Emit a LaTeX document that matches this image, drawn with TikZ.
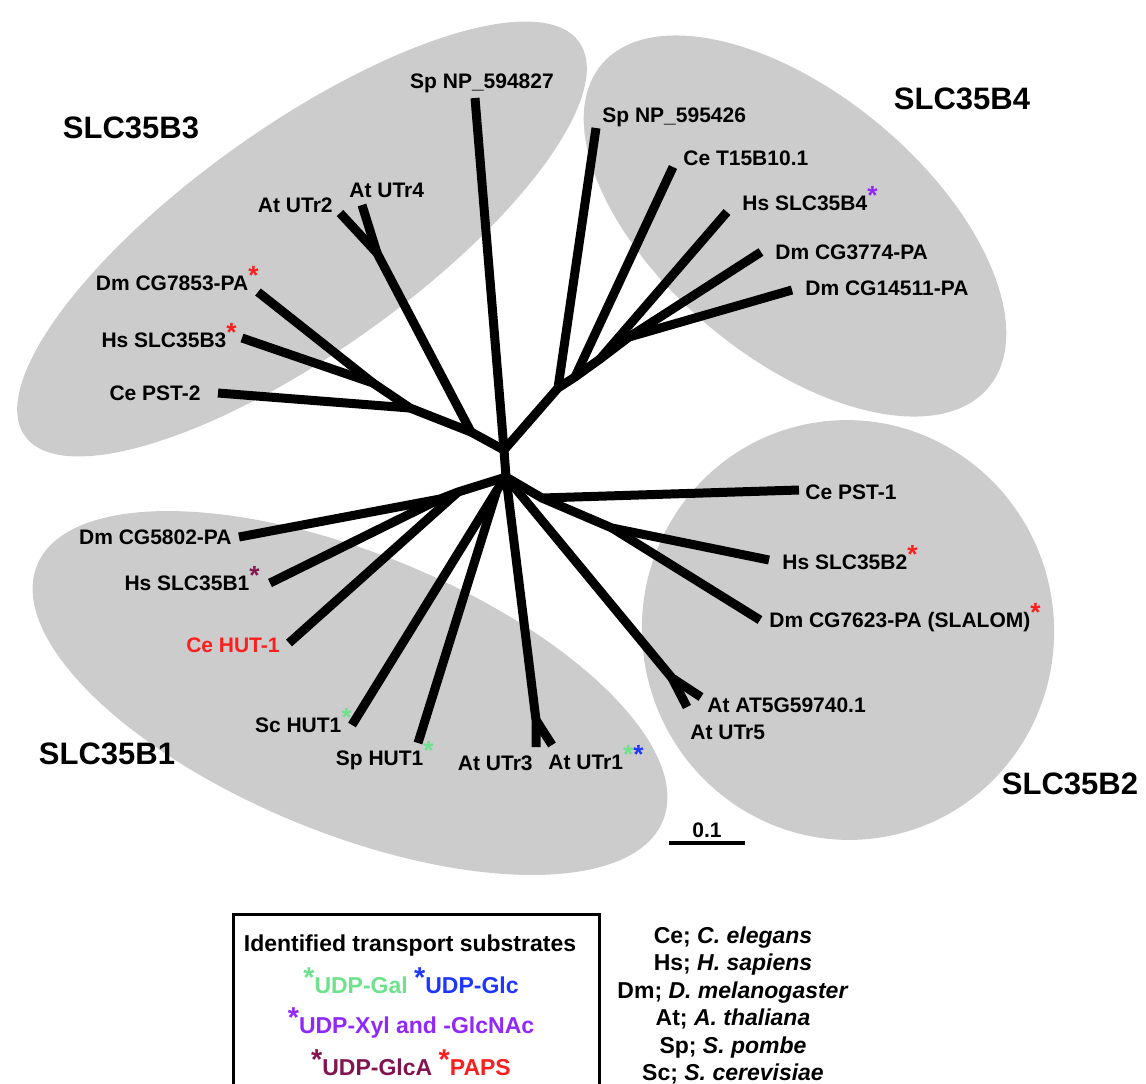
\documentclass[tikz,border=0pt]{standalone}
\usepackage{fontspec}
\setmainfont{Liberation Sans}
\usepackage{graphicx}
\usetikzlibrary{positioning}

\definecolor{cladegray}{RGB}{204,204,204}
\definecolor{galgreen}{RGB}{110,225,140}
\definecolor{glcblue}{RGB}{30,55,255}
\definecolor{xylpurple}{RGB}{145,40,250}
\definecolor{glcamaroon}{RGB}{130,20,80}
\definecolor{papsred}{RGB}{255,30,30}

% coloured substrate mark
\newcommand{\mk}[1]{\textcolor{#1}{\raisebox{0.25em}{\scalebox{1.25}{*}}}}

\begin{document}
\begin{tikzpicture}[x=0.5pt, y=-0.5pt,
    clade/.style={fill=cladegray, draw=none},
    branch/.style={line width=4.5pt, line join=round},
    leaf/.style={font=\bfseries\fontsize{10.5}{12}\selectfont, inner sep=0pt},
    cladename/.style={font=\bfseries\fontsize{15.5}{18}\selectfont, inner sep=0pt},
    key/.style={font=\bfseries\fontsize{11.5}{13}\selectfont, inner sep=0pt}]

\useasboundingbox (0,0) rectangle (1146,1083);

% gray clades
\fill[clade, rotate around={35.4:(302,239)}] (302,239) ellipse (340 and 113);
\fill[clade, rotate around={-39.8:(795,226)}] (795,226) ellipse (252 and 132);
\fill[clade, rotate around={-22.2:(350,693)}] (350,693) ellipse (338 and 140);
\fill[clade, rotate around={10:(848,630)}] (848,630) ellipse (206 and 210);

% clade names
\node[cladename, anchor=base] (slc35b3) at (131,138) {SLC35B3};
\node[cladename, anchor=base] (slc35b4) at (962,109) {SLC35B4};
\node[cladename, anchor=base] (slc35b1) at (107,764) {SLC35B1};
\node[cladename, anchor=base] (slc35b2) at (1070,794) {SLC35B2};

% inner points of the tree
\coordinate (top) at (504,450);
\coordinate (bot) at (506,477);
\coordinate (b3a) at (471,432);
\coordinate (b3b) at (410,408);
\coordinate (b3c) at (373,383);
\coordinate (b3utr) at (377,253);
\coordinate (b4a) at (558,388);
\coordinate (b4b) at (575,377);
\coordinate (b4c) at (600,359);
\coordinate (b4d) at (629,337);
\coordinate (b1a) at (458,492);
\coordinate (b1b) at (440,499);
\coordinate (b1hut) at (497,490);
\coordinate (b1utr) at (536,720);
\coordinate (b2a) at (542,498);
\coordinate (b2b) at (612,528);
\coordinate (b2at) at (672,678);

% tips
\coordinate (spnp594-tip) at (475,98);
\coordinate (atutr2-tip) at (340,213);
\coordinate (atutr4-tip) at (362,205);
\coordinate (dmcg7853-tip) at (258,292);
\coordinate (hsslc35b3-tip) at (242,338);
\coordinate (cepst2-tip) at (218,393);
\coordinate (spnp595-tip) at (596,128);
\coordinate (cet15-tip) at (673,167);
\coordinate (hsslc35b4-tip) at (727,212);
\coordinate (dmcg3774-tip) at (761,252);
\coordinate (dmcg14511-tip) at (792,290);
\coordinate (dmcg5802-tip) at (239,537);
\coordinate (hsslc35b1-tip) at (270,583);
\coordinate (cehut1-tip) at (289,643);
\coordinate (schut1-tip) at (352,725);
\coordinate (sphut1-tip) at (418,743);
\coordinate (atutr3-tip) at (536,747);
\coordinate (atutr1-tip) at (552,745);
\coordinate (cepst1-tip) at (799,490);
\coordinate (hsslc35b2-tip) at (769,560);
\coordinate (dmcg7623-tip) at (760,620);
\coordinate (at5g-tip) at (701,697);
\coordinate (atutr5-tip) at (687,707);

% branches
\draw[branch] (top) -- (bot);
\draw[branch] (spnp594-tip) -- (top);
\draw[branch] (top) -- (b3a) -- (b3b) -- (b3c) -- (dmcg7853-tip);
\draw[branch] (b3c) -- (hsslc35b3-tip);
\draw[branch] (b3b) -- (cepst2-tip);
\draw[branch] (b3a) -- (b3utr) -- (atutr2-tip);
\draw[branch] (b3utr) -- (atutr4-tip);
\draw[branch] (top) -- (b4a) -- (b4b) -- (b4c) -- (b4d) -- (dmcg14511-tip);
\draw[branch] (b4d) -- (dmcg3774-tip);
\draw[branch] (b4c) -- (hsslc35b4-tip);
\draw[branch] (b4b) -- (cet15-tip);
\draw[branch] (b4a) -- (spnp595-tip);
\draw[branch] (bot) -- (b1a) -- (b1b) -- (dmcg5802-tip);
\draw[branch] (b1b) -- (hsslc35b1-tip);
\draw[branch] (b1a) -- (cehut1-tip);
\draw[branch] (bot) -- (b1hut) -- (schut1-tip);
\draw[branch] (b1hut) -- (sphut1-tip);
\draw[branch] (bot) -- (b1utr) -- (atutr3-tip);
\draw[branch] (b1utr) -- (atutr1-tip);
\draw[branch] (bot) -- (b2a) -- (cepst1-tip);
\draw[branch] (b2a) -- (b2b) -- (hsslc35b2-tip);
\draw[branch] (b2b) -- (dmcg7623-tip);
\draw[branch] (bot) -- (b2at) -- (at5g-tip);
\draw[branch] (b2at) -- (atutr5-tip);

% leaf names
\node[leaf, anchor=base] (spnp594) at (482,88) {Sp NP\_594827};
\node[leaf, anchor=base east] (atutr2) at (333,212) {At UTr2};
\node[leaf, anchor=base west] (atutr4) at (349,197) {At UTr4};
\node[leaf, anchor=base east] (dmcg7853) at (259,290) {Dm CG7853-PA\mk{papsred}};
\node[leaf, anchor=base east] (hsslc35b3) at (237,347) {Hs SLC35B3\mk{papsred}};
\node[leaf, anchor=base east] (cepst2) at (201,400) {Ce PST-2};
\node[leaf, anchor=base west] (spnp595) at (602,122) {Sp NP\_595426};
\node[leaf, anchor=base west] (cet15) at (683,165) {Ce T15B10.1};
\node[leaf, anchor=base west] (hsslc35b4) at (742,210) {Hs SLC35B4\mk{xylpurple}};
\node[leaf, anchor=base west] (dmcg3774) at (775,259) {Dm CG3774-PA};
\node[leaf, anchor=base west] (dmcg14511) at (805,295) {Dm CG14511-PA};
\node[leaf, anchor=base east] (dmcg5802) at (232,544) {Dm CG5802-PA};
\node[leaf, anchor=base east] (hsslc35b1) at (260,590) {Hs SLC35B1\mk{glcamaroon}};
\node[leaf, anchor=base east, text=papsred] (cehut1) at (280,652) {Ce HUT-1};
\node[leaf, anchor=base east] (schut1) at (352,732) {Sc HUT1\mk{galgreen}};
\node[leaf, anchor=base east] (sphut1) at (434,765) {Sp HUT1\mk{galgreen}};
\node[leaf, anchor=base east] (atutr3) at (533,770) {At UTr3};
\node[leaf, anchor=base west] (atutr1) at (548,769) {At UTr1\mk{galgreen}\mk{glcblue}};
\node[leaf, anchor=base west] (cepst1) at (805,499) {Ce PST-1};
\node[leaf, anchor=base west] (hsslc35b2) at (782,569) {Hs SLC35B2\mk{papsred}};
\node[leaf, anchor=base west] (dmcg7623) at (769,627) {Dm CG7623-PA (SLALOM)\mk{papsred}};
\node[leaf, anchor=base west] (at5g) at (707,712) {At AT5G59740.1};
\node[leaf, anchor=base west] (atutr5) at (690,739) {At UTr5};

% scale bar
\coordinate (bar-l) at (669,843);
\coordinate (bar-r) at (745,843);
\draw[line width=1.7pt] (bar-l) -- node[leaf, above=2pt] (barlabel) {0.1} (bar-r);

% substrate key
\node[draw, line width=1.7pt, anchor=north west, inner sep=0pt,
      minimum width=183pt, minimum height=110pt] (keybox) at (232,913) {};
\node[key, anchor=base] (keytitle) at (410,951) {Identified transport substrates};
\node[key, anchor=base] (keygal) at (411,993) {\mk{galgreen}\textcolor{galgreen}{UDP-Gal} \mk{glcblue}\textcolor{glcblue}{UDP-Glc}};
\node[key, anchor=base] (keyxyl) at (411,1033) {\mk{xylpurple}\textcolor{xylpurple}{UDP-Xyl and -GlcNAc}};
\node[key, anchor=base] (keyglca) at (411,1075) {\mk{glcamaroon}\textcolor{glcamaroon}{UDP-GlcA} \mk{papsred}\textcolor{papsred}{PAPS}};

% species key
\node[key, anchor=base] (ce) at (733,943) {Ce; \textit{C. elegans}};
\node[key, anchor=base] (hs) at (733,970) {Hs; \textit{H. sapiens}};
\node[key, anchor=base] (dm) at (733,998) {Dm; \textit{D. melanogaster}};
\node[key, anchor=base] (at) at (733,1025) {At; \textit{A. thaliana}};
\node[key, anchor=base] (sp) at (733,1053) {Sp; \textit{S. pombe}};
\node[key, anchor=base] (sc) at (733,1080) {Sc; \textit{S. cerevisiae}};
\end{tikzpicture}
\end{document}
